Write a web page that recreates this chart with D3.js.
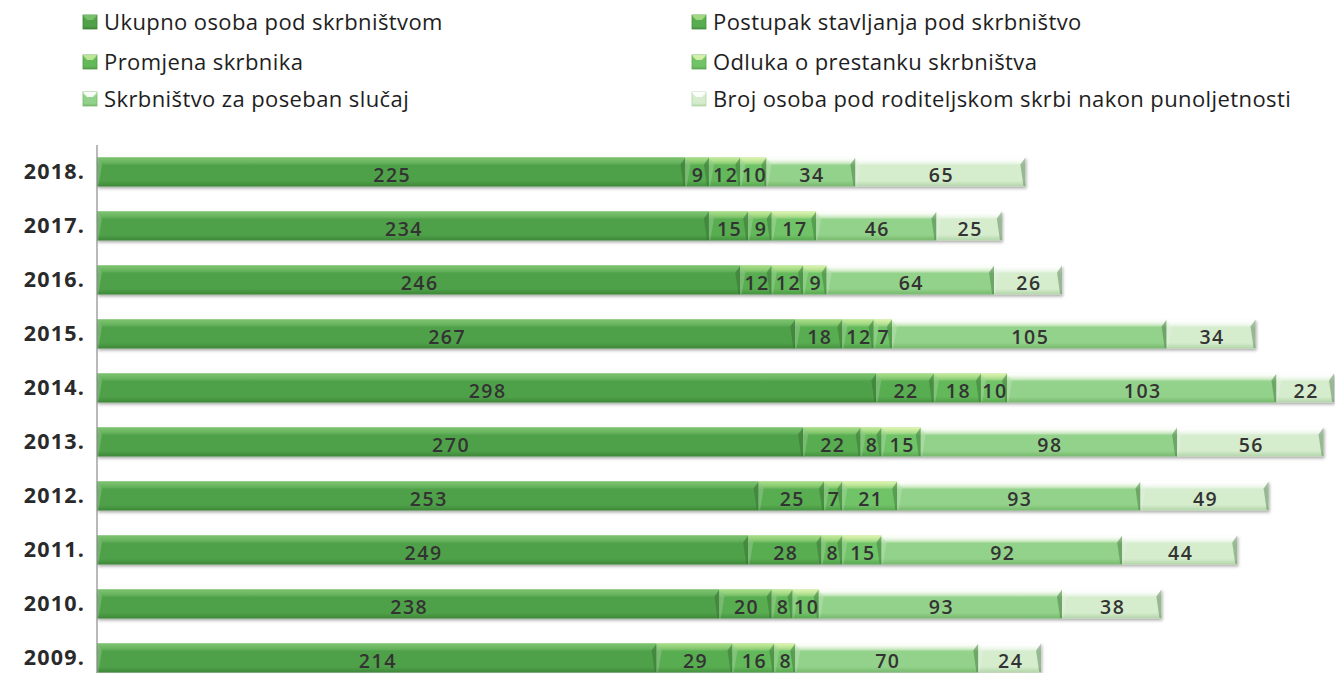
<!DOCTYPE html>
<html>
<head>
<meta charset="utf-8">
<script src="https://cdn.jsdelivr.net/npm/d3@7"></script>
<style>
  html, body { margin: 0; padding: 0; background: #fff; }
  svg { display: block; }
</style>
</head>
<body>
<svg id="chart" width="1335" height="673"></svg>
<script>
// ---- DATA ----
const years = ["2018.", "2017.", "2016.", "2015.", "2014.", "2013.", "2012.", "2011.", "2010.", "2009."];
const seriesNames = [
  "Ukupno osoba pod skrbništvom",
  "Postupak stavljanja pod skrbništvo",
  "Promjena skrbnika",
  "Odluka o prestanku skrbništva",
  "Skrbništvo za poseban slučaj",
  "Broj osoba pod roditeljskom skrbi nakon punoljetnosti"
];
const ukupno   = [225, 234, 246, 267, 298, 270, 253, 249, 238, 214];
const postupak = [9, 15, 12, 18, 22, 22, 25, 28, 20, 29];
const promjena = [12, 9, 12, 12, 18, 8, 7, 8, 8, 16];
const odluka   = [10, 17, 9, 7, 10, 15, 21, 15, 10, 8];
const poseban  = [34, 46, 64, 105, 103, 98, 93, 92, 93, 70];
const broj     = [65, 25, 26, 34, 22, 56, 49, 44, 38, 24];
const seriesValues = [ukupno, postupak, promjena, odluka, poseban, broj];

// ---- STYLE ----
const palette = [
  { top: "#6cb862", mid: "#50a14a", bot: "#3d8838", hi: "#7cc26e" },
  { top: "#8fd07a", mid: "#59ad51", bot: "#45923f", hi: "#a6dc84" },
  { top: "#a6dc84", mid: "#63b85a", bot: "#4f9c48", hi: "#c2e998" },
  { top: "#c2e998", mid: "#71c368", bot: "#5aa852", hi: "#d9f2ad" },
  { top: "#f6fcea", mid: "#93d28a", bot: "#76b96e", hi: "#ffffff" },
  { top: "#ffffff", mid: "#d5eccd", bot: "#b3d6aa", hi: "#ffffff" }
];

const svg = d3.select("#chart");
const defs = svg.append("defs");

palette.forEach((c, i) => {
  const g = defs.append("linearGradient").attr("id", "grad" + i)
    .attr("x1", 0).attr("y1", 0).attr("x2", 0).attr("y2", 1);
  g.append("stop").attr("offset", "0").attr("stop-color", c.top);
  g.append("stop").attr("offset", "0.28").attr("stop-color", c.mid);
  g.append("stop").attr("offset", "0.8").attr("stop-color", c.mid);
  g.append("stop").attr("offset", "1").attr("stop-color", c.bot);
  const h = defs.append("linearGradient").attr("id", "hi" + i)
    .attr("x1", 0).attr("y1", 0).attr("x2", 0).attr("y2", 1);
  h.append("stop").attr("offset", "0").attr("stop-color", c.hi).attr("stop-opacity", 0.95);
  h.append("stop").attr("offset", "1").attr("stop-color", c.hi).attr("stop-opacity", 0.15);
});
const f = defs.append("filter").attr("id", "shadow").attr("x", "-5%").attr("y", "-30%").attr("width", "110%").attr("height", "170%");
f.append("feDropShadow").attr("dx", 1).attr("dy", 2).attr("stdDeviation", 1.8)
  .attr("flood-color", "#000").attr("flood-opacity", 0.32);

// ---- SCALES ----
const x = d3.scaleLinear().domain([0, 473]).range([97, 1334]);
const y = d3.scaleBand().domain(years).range([145, 685]).paddingInner(0.463).paddingOuter(0.2315);

// stacked data
const table = years.map((yr, i) => {
  const o = { year: yr };
  seriesNames.forEach((s, k) => o[s] = seriesValues[k][i]);
  return o;
});
const stack = d3.stack().keys(seriesNames)(table);

// ---- BARS ----
const barsG = svg.append("g");
barsG.selectAll("g.row").data(years).join("g").attr("class", "row")
  .attr("filter", "url(#shadow)");

stack.forEach((layer, k) => {
  layer.forEach((d, i) => {
    const yr = years[i];
    const x0 = x(d[0]), x1 = x(d[1]);
    const y0 = y(yr), h = y.bandwidth();
    const g = barsG.selectAll("g.row").filter(v => v === yr);
    g.append("rect").attr("x", x0).attr("y", y0).attr("width", x1 - x0).attr("height", h)
      .attr("fill", `url(#grad${k})`);
    const b = Math.min(5, (x1 - x0) / 3);
    g.append("path")
      .attr("d", `M${x0},${y0} L${x1},${y0} L${x1 - b},${y0 + 7} L${x0 + b},${y0 + 7} Z`)
      .attr("fill", `url(#hi${k})`);
    g.append("path")
      .attr("d", `M${x1},${y0} L${x1},${y0 + h} L${x1 - 2},${y0 + h - 1} L${x1 - b},${y0 + 7} Z`)
      .attr("fill", "rgba(40,90,40,0.35)");
    g.append("path")
      .attr("d", `M${x0},${y0} L${x0 + b},${y0 + 7} L${x0 + 1.5},${y0 + h - 1} L${x0},${y0 + h} Z`)
      .attr("fill", "rgba(255,255,255,0.18)");
  });
});

// ---- LABELS ----
stack.forEach((layer, k) => {
  layer.forEach((d, i) => {
    const yr = years[i];
    barsG.append("text")
      .attr("x", (x(d[0]) + x(d[1])) / 2 + 1)
      .attr("y", y(yr) + y.bandwidth() / 2 + 3)
      .attr("dy", "0.35em")
      .attr("text-anchor", "middle")
      .attr("font-family", "'Open Sans', sans-serif")
      .attr("font-weight", 600)
      .attr("font-size", 19.5)
      .attr("letter-spacing", "1.5px")
      .attr("fill", "#333")
      .text(d.data[seriesNames[k]]);
  });
});

// ---- AXIS ----
const axis = svg.append("g").attr("transform", "translate(97,0)")
  .call(d3.axisLeft(y).tickSize(0).tickPadding(12));
axis.select(".domain").attr("d", "M0,145V673").attr("stroke", "#8a8a8a").attr("stroke-width", 1.2);
axis.selectAll(".tick text")
  .attr("font-family", "'Open Sans', sans-serif")
  .attr("font-weight", 700)
  .attr("font-size", 21.5)
  .attr("letter-spacing", "1.2px")
  .attr("fill", "#2a2a2a");

// ---- LEGEND ----
const legendPos = [
  { x: 83, y: 22 }, { x: 692, y: 22 },
  { x: 83, y: 62 }, { x: 692, y: 62 },
  { x: 83, y: 99 }, { x: 692, y: 99 }
];
const leg = svg.append("g").selectAll("g").data(seriesNames).join("g")
  .attr("transform", (d, i) => `translate(${legendPos[i].x},${legendPos[i].y})`);
leg.append("rect").attr("x", 0).attr("y", -7).attr("width", 14).attr("height", 14)
  .attr("fill", (d, i) => `url(#grad${i})`)
  .attr("stroke", (d, i) => palette[i].bot).attr("stroke-width", 0.8);
leg.append("path").attr("d", "M0,-7 L14,-7 L10,-2 L4,-2 Z")
  .attr("fill", (d, i) => palette[i].hi).attr("opacity", 0.9);
leg.append("text").attr("x", 21).attr("y", 0).attr("dy", "0.36em")
  .attr("font-family", "'Open Sans', sans-serif")
  .attr("font-size", 22)
  .attr("letter-spacing", "0.4px")
  .attr("fill", "#1e1e1e")
  .text(d => d);
</script>
</body>
</html>
